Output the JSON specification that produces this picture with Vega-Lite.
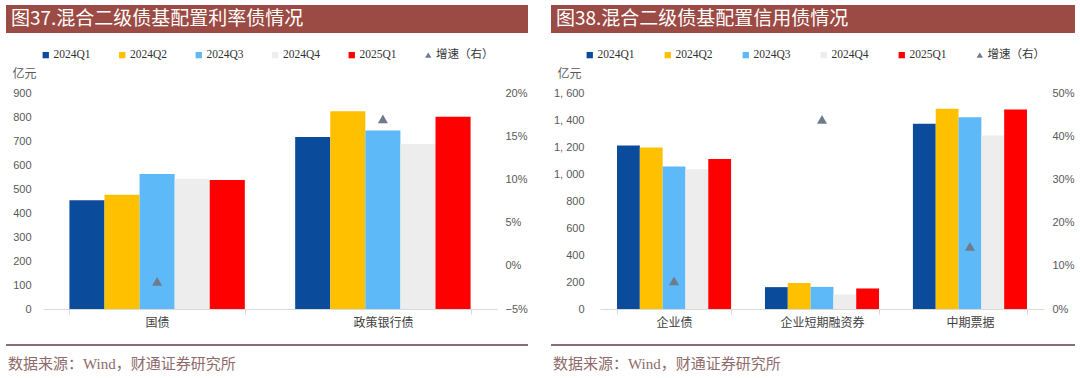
{
  "$schema": "https://vega.github.io/schema/vega-lite/v6.json",
  "background": "white",
  "padding": {"left": 6, "top": 5, "right": 0, "bottom": 0},
  "bounds": "full",
  "columns": 1,
  "align": "none",
  "spacing": 14,
  "resolve": {"scale": {"color": "independent", "xOffset": "independent"}, "legend": {"color": "independent"}},
  "concat": [
    {
      "hconcat": [
        {
          "width": 522, "height": 28,
          "view": {"fill": "#9C4A44", "stroke": null},
          "data": {"values": [{"t": "图37.混合二级债基配置利率债情况"}]},
          "mark": {"type": "text", "align": "left", "baseline": "middle", "color": "#FFFFFF", "font": "Noto Sans CJK SC", "fontSize": 19},
          "encoding": {"text": {"field": "t"}, "x": {"value": 5}, "y": {"value": 14}}
        },
        {
          "width": 524, "height": 28,
          "view": {"fill": "#9C4A44", "stroke": null},
          "data": {"values": [{"t": "图38.混合二级债基配置信用债情况"}]},
          "mark": {"type": "text", "align": "left", "baseline": "middle", "color": "#FFFFFF", "font": "Noto Sans CJK SC", "fontSize": 19},
          "encoding": {"text": {"field": "t"}, "x": {"value": 5}, "y": {"value": 14}}
        }
      ],
      "spacing": 23
    },
    {
      "hconcat": [
        {
          "width": 522, "height": 216,
          "layer": [
            {
              "data": {"values": [
                {"cat": "国债", "q": "2024Q1", "v": 453},
                {"cat": "国债", "q": "2024Q2", "v": 476},
                {"cat": "国债", "q": "2024Q3", "v": 562},
                {"cat": "国债", "q": "2024Q4", "v": 543},
                {"cat": "国债", "q": "2025Q1", "v": 537},
                {"cat": "政策银行债", "q": "2024Q1", "v": 717},
                {"cat": "政策银行债", "q": "2024Q2", "v": 824},
                {"cat": "政策银行债", "q": "2024Q3", "v": 744},
                {"cat": "政策银行债", "q": "2024Q4", "v": 687},
                {"cat": "政策银行债", "q": "2025Q1", "v": 801}
              ]},
              "mark": {"type": "bar"},
              "encoding": {
                "x": {"field": "cat", "type": "nominal", "sort": ["国债", "政策银行债"], "title": null,
                  "scale": {"range": [37, 491], "paddingInner": 0.223, "paddingOuter": 0.117},
                  "axis": {"labelAngle": 0, "domainColor": "#D9D9D9", "ticks": true, "tickBand": "extent", "tickColor": "#D9D9D9", "tickSize": 5, "labelPadding": 3, "labelFont": "Noto Sans CJK SC", "labelFontSize": 12, "labelColor": "#404040"}},
                "xOffset": {"field": "q", "type": "nominal", "sort": ["2024Q1", "2024Q2", "2024Q3", "2024Q4", "2025Q1"], "scale": {"paddingInner": 0, "paddingOuter": 0}},
                "y": {"field": "v", "type": "quantitative", "scale": {"domain": [0, 900], "nice": false},
                  "axis": {"orient": "left", "offset": -37, "values": [0, 100, 200, 300, 400, 500, 600, 700, 800, 900], "domain": false, "ticks": false, "grid": false, "labelPadding": 12,
                    "title": "亿元", "titleAngle": 0, "titleAlign": "left", "titleBaseline": "middle", "titleX": -31, "titleY": -20, "titleFont": "Liberation Serif, Noto Sans CJK SC", "titleFontSize": 12, "titleFontWeight": "normal", "titleColor": "#595959"}},
                "color": {"field": "q", "type": "nominal",
                  "scale": {"domain": ["2024Q1", "2024Q2", "2024Q3", "2024Q4", "2025Q1", "增速（右）"], "range": ["#0A4B9B", "#FFC000", "#5DB9F7", "#EDEDED", "#FF0000", "#6F7B8C"]},
                  "legend": {"orient": "none", "legendX": 32, "legendY": -46, "padding": 2, "direction": "horizontal", "columns": 6, "columnPadding": 25.5, "title": null, "symbolSize": 40, "labelOffset": 2,
                    "labelFont": "Liberation Serif, Noto Sans CJK SC", "labelFontSize": 11.5, "labelColor": "#333333",
                    "encode": {"symbols": {"update": {"shape": {"signal": "datum.value === '增速（右）' ? 'triangle-up' : 'square'"}}}}}}
              }
            },
            {
              "data": {"values": [
                {"cat": "国债", "s": "增速（右）", "g": -0.018},
                {"cat": "政策银行债", "s": "增速（右）", "g": 0.170}
              ]},
              "mark": {"type": "point", "shape": "triangle-up", "filled": true, "size": 100, "opacity": 1},
              "encoding": {
                "x": {"field": "cat", "type": "nominal", "sort": ["国债", "政策银行债"], "title": null},
                "y": {"field": "g", "type": "quantitative", "scale": {"domain": [-0.05, 0.2], "nice": false},
                  "axis": {"orient": "right", "offset": -31, "values": [-0.05, 0, 0.05, 0.1, 0.15, 0.2], "format": ".0%", "domain": false, "ticks": false, "grid": false, "labelPadding": 8, "title": null}},
                "color": {"field": "s", "type": "nominal"}
              }
            }
          ],
          "resolve": {"scale": {"y": "independent"}}
        },
        {
          "width": 524, "height": 216,
          "layer": [
            {
              "data": {"values": [
                {"cat": "企业债", "q": "2024Q1", "v": 1212},
                {"cat": "企业债", "q": "2024Q2", "v": 1197},
                {"cat": "企业债", "q": "2024Q3", "v": 1055},
                {"cat": "企业债", "q": "2024Q4", "v": 1035},
                {"cat": "企业债", "q": "2025Q1", "v": 1112},
                {"cat": "企业短期融资券", "q": "2024Q1", "v": 162},
                {"cat": "企业短期融资券", "q": "2024Q2", "v": 192},
                {"cat": "企业短期融资券", "q": "2024Q3", "v": 164},
                {"cat": "企业短期融资券", "q": "2024Q4", "v": 107},
                {"cat": "企业短期融资券", "q": "2025Q1", "v": 152},
                {"cat": "中期票据", "q": "2024Q1", "v": 1373},
                {"cat": "中期票据", "q": "2024Q2", "v": 1483},
                {"cat": "中期票据", "q": "2024Q3", "v": 1421},
                {"cat": "中期票据", "q": "2024Q4", "v": 1286},
                {"cat": "中期票据", "q": "2025Q1", "v": 1478}
              ]},
              "mark": {"type": "bar"},
              "encoding": {
                "x": {"field": "cat", "type": "nominal", "sort": ["企业债", "企业短期融资券", "中期票据"], "title": null,
                  "scale": {"range": [49, 493], "paddingInner": 0.229, "paddingOuter": 0.115},
                  "axis": {"labelAngle": 0, "domainColor": "#D9D9D9", "ticks": true, "tickBand": "extent", "tickColor": "#D9D9D9", "tickSize": 5, "labelPadding": 3, "labelFont": "Noto Sans CJK SC", "labelFontSize": 12, "labelColor": "#404040"}},
                "xOffset": {"field": "q", "type": "nominal", "sort": ["2024Q1", "2024Q2", "2024Q3", "2024Q4", "2025Q1"], "scale": {"paddingInner": 0, "paddingOuter": 0}},
                "y": {"field": "v", "type": "quantitative", "scale": {"domain": [0, 1600], "nice": false},
                  "axis": {"orient": "left", "offset": -49, "values": [0, 200, 400, 600, 800, 1000, 1200, 1400, 1600], "labelExpr": "replace(format(datum.value, ','), ',', ', ')", "domain": false, "ticks": false, "grid": false, "labelPadding": 16,
                    "title": "亿元", "titleAngle": 0, "titleAlign": "left", "titleBaseline": "middle", "titleX": -43, "titleY": -20, "titleFont": "Liberation Serif, Noto Sans CJK SC", "titleFontSize": 12, "titleFontWeight": "normal", "titleColor": "#595959"}},
                "color": {"field": "q", "type": "nominal",
                  "scale": {"domain": ["2024Q1", "2024Q2", "2024Q3", "2024Q4", "2025Q1", "增速（右）"], "range": ["#0A4B9B", "#FFC000", "#5DB9F7", "#EDEDED", "#FF0000", "#6F7B8C"]},
                  "legend": {"orient": "none", "legendX": 31, "legendY": -46, "padding": 2, "direction": "horizontal", "columns": 6, "columnPadding": 27, "title": null, "symbolSize": 40, "labelOffset": 2,
                    "labelFont": "Liberation Serif, Noto Sans CJK SC", "labelFontSize": 11.5, "labelColor": "#333333",
                    "encode": {"symbols": {"update": {"shape": {"signal": "datum.value === '增速（右）' ? 'triangle-up' : 'square'"}}}}}}
              }
            },
            {
              "data": {"values": [
                {"cat": "企业债", "s": "增速（右）", "g": 0.065},
                {"cat": "企业短期融资券", "s": "增速（右）", "g": 0.439},
                {"cat": "中期票据", "s": "增速（右）", "g": 0.145}
              ]},
              "mark": {"type": "point", "shape": "triangle-up", "filled": true, "size": 100, "opacity": 1},
              "encoding": {
                "x": {"field": "cat", "type": "nominal", "sort": ["企业债", "企业短期融资券", "中期票据"], "title": null},
                "y": {"field": "g", "type": "quantitative", "scale": {"domain": [0, 0.5], "nice": false},
                  "axis": {"orient": "right", "offset": -31, "values": [0, 0.1, 0.2, 0.3, 0.4, 0.5], "format": ".0%", "domain": false, "ticks": false, "grid": false, "labelPadding": 8, "title": null}},
                "color": {"field": "s", "type": "nominal"}
              }
            }
          ],
          "resolve": {"scale": {"y": "independent"}}
        }
      ],
      "spacing": 23,
      "resolve": {"scale": {"color": "independent", "xOffset": "independent"}, "legend": {"color": "independent"}}
    },
    {
      "hconcat": [
        {
          "width": 522, "height": 2,
          "view": {"fill": "#87706F", "stroke": null},
          "data": {"values": [{}]},
          "mark": {"type": "point", "opacity": 0},
          "encoding": {},
          "title": {"text": "数据来源：Wind，财通证券研究所", "orient": "bottom", "anchor": "start", "offset": 9, "dx": 2, "color": "#8E6A6A", "font": "Liberation Serif, Noto Sans CJK SC", "fontSize": 15, "fontWeight": "normal"}
        },
        {
          "width": 524, "height": 2,
          "view": {"fill": "#87706F", "stroke": null},
          "data": {"values": [{}]},
          "mark": {"type": "point", "opacity": 0},
          "encoding": {},
          "title": {"text": "数据来源：Wind，财通证券研究所", "orient": "bottom", "anchor": "start", "offset": 9, "dx": 2, "color": "#8E6A6A", "font": "Liberation Serif, Noto Sans CJK SC", "fontSize": 15, "fontWeight": "normal"}
        }
      ],
      "spacing": 23
    }
  ],
  "config": {
    "view": {"stroke": null},
    "axis": {"labelFont": "Liberation Sans", "labelFontSize": 11, "labelColor": "#595959"}
  }
}
